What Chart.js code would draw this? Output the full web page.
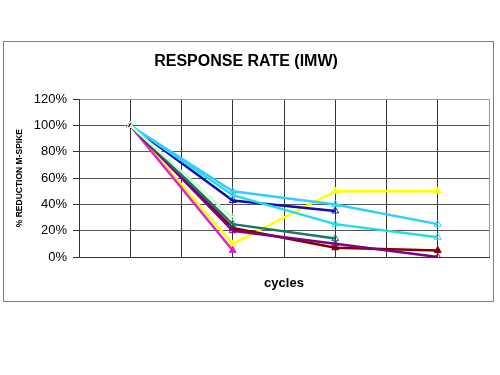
<!DOCTYPE html>
<html>
<head>
<meta charset="utf-8">
<script src="https://cdn.jsdelivr.net/npm/chart.js@4"></script>
<style>
  body { margin: 0; background: #fff; }
  canvas { display: block; }
</style>
</head>
<body>
<canvas id="myChart" width="500" height="375"></canvas>
<script>
// cycle number -> position on the x axis (grid has a line between each cycle)
const cycles = [1, 2, 3, 4];
const cyclePos = [1, 3, 5, 7];
const yTicks = [0, 20, 40, 60, 80, 100, 120];

// % reduction per patient, null = no value
const navy = [100, 43, 35, null];
const cyanA = [100, 50, 40, 25];
const cyanB = [100, 47, 25, 15];
const paleGreen = [100, 30, null, null];
const teal = [100, 25, 14, null];
const purple = [100, 20, 10, 0];
const maroon = [100, 22, 7, 5];
const magenta = [100, 5, null, null];
const yellow = [100, 10, 50, 50];

// ----------------------------------------------------------------

function toPoints(values) {
  const pts = [];
  values.forEach(function (v, i) {
    if (v !== null) pts.push({ x: cyclePos[i], y: v });
  });
  return pts;
}

function series(label, values, color, filled) {
  return {
    label: label,
    data: toPoints(values),
    borderColor: color,
    backgroundColor: color,
    borderWidth: 2.5,
    pointStyle: 'triangle',
    pointRadius: 4,
    pointBorderWidth: 1,
    pointBackgroundColor: filled ? color : 'rgba(255,255,255,0)',
    pointBorderColor: color,
    tension: 0
  };
}

const data = {
  datasets: [
    series('1', paleGreen, '#ccffcc', false),
    series('2', cyanA, '#33ccff', false),
    series('3', cyanB, '#22dde8', false),
    series('4', navy, '#1010b0', false),
    series('5', teal, '#187868', false),
    series('6', purple, '#800080', false),
    series('7', maroon, '#800000', true),
    series('8', magenta, '#e020d0', true),
    series('9', yellow, '#ffff00', true)
  ]
};

const chartFrame = {
  id: 'chartFrame',
  beforeDraw: function (chart) {
    const ctx = chart.ctx;
    ctx.save();
    ctx.fillStyle = '#ffffff';
    ctx.fillRect(0, 0, chart.width, chart.height);
    ctx.strokeStyle = '#808080';
    ctx.lineWidth = 1;
    ctx.strokeRect(3.5, 41.5, 490, 260);
    ctx.restore();
  }
};

const config = {
  type: 'line',
  data: data,
  plugins: [chartFrame],
  options: {
    responsive: false,
    animation: false,
    layout: {
      padding: { left: 3, right: 11, top: 41, bottom: 74 }
    },
    plugins: {
      tooltip: { enabled: false },
      legend: { display: false },
      title: {
        display: true,
        text: 'RESPONSE RATE (IMW)',
        color: '#000',
        font: { family: 'Liberation Sans, Arial, sans-serif', size: 16, weight: 'bold' },
        padding: { top: 11, bottom: 28 }
      }
    },
    scales: {
      x: {
        type: 'linear',
        min: 0,
        max: 8,
        ticks: { stepSize: 1, display: false },
        afterFit: function (scale) { scale.height = 44; },
        grid: {
          drawTicks: false,
          color: function (c) { return c.tick.value === 8 ? '#999' : '#333'; }
        },
        border: { color: '#333' },
        title: {
          display: true,
          text: 'cycles',
          color: '#000',
          font: { family: 'Liberation Sans, Arial, sans-serif', size: 13, weight: 'bold' },
          padding: { top: 0, bottom: 10 }
        }
      },
      y: {
        min: 0,
        max: 120,
        afterFit: function (scale) { scale.width = 76; },
        afterBuildTicks: function (scale) {
          scale.ticks = yTicks.map(function (v) { return { value: v }; });
        },
        ticks: {
          color: '#000',
          padding: 6,
          font: { family: 'Liberation Sans, Arial, sans-serif', size: 13 },
          callback: function (value) { return value + '%'; }
        },
        grid: {
          tickLength: 6,
          tickColor: '#333',
          color: function (c) { return c.tick.value === 120 ? '#999' : '#555'; }
        },
        border: { color: '#333' },
        title: {
          display: true,
          text: '% REDUCTION M-SPIKE',
          color: '#000',
          font: { family: 'Liberation Sans, Arial, sans-serif', size: 8.5, weight: 'bold' },
          padding: { top: 12, bottom: 0 }
        }
      }
    }
  }
};

var canvas = document.getElementById('myChart').getContext('2d');
var myChart = new Chart(canvas, config);
</script>
</body>
</html>
